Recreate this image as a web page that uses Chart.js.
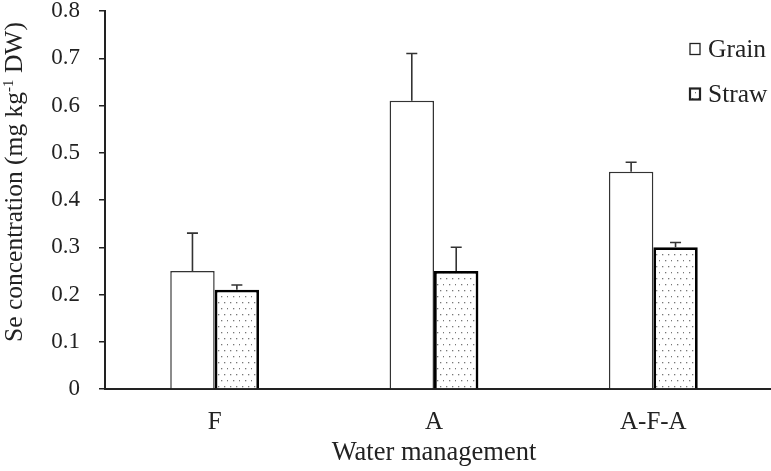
<!DOCTYPE html>
<html><head><meta charset="utf-8">
<script src="https://cdn.jsdelivr.net/npm/chart.js@4"></script>
<style>html,body{margin:0;padding:0;background:#fff}#wrap{width:771px;height:471px;position:relative}</style>
</head><body><div id="wrap"><canvas id="c" width="771" height="471"></canvas></div>
<script>
const categories = ["F", "A", "A-F-A"];
const grainValues = [0.25, 0.61, 0.46];
const grainErrors = [0.08, 0.10, 0.02];
const strawValues = [0.21, 0.25, 0.30];
const strawErrors = [0.01, 0.05, 0.01];
const yTicks = [0, 0.1, 0.2, 0.3, 0.4, 0.5, 0.6, 0.7, 0.8];
const seriesNames = ["Grain", "Straw"];

const FONT = "'Liberation Serif', 'Times New Roman', serif";

function dotPattern() {
  const p = document.createElement('canvas');
  p.width = 12; p.height = 12;
  const g = p.getContext('2d');
  g.fillStyle = '#fff'; g.fillRect(0,0,12,12);
  g.fillStyle = '#777';
  [[2,2],[8,2],[5,8],[11,8]].forEach(([x,y]) => g.fillRect(x,y,1.3,1.3));
  return g.createPattern(p, 'repeat');
}
const ctx0 = document.getElementById('c').getContext('2d');
const pat = dotPattern();

const errorBars = {
  id: 'errorBars',
  afterDatasetsDraw(chart) {
    const ctx = chart.ctx, ys = chart.scales.y;
    const errs = [grainErrors, strawErrors];
    chart.data.datasets.forEach((ds, di) => {
      const meta = chart.getDatasetMeta(di);
      meta.data.forEach((bar, i) => {
        const top = ys.getPixelForValue(ds.data[i] + errs[di][i]);
        ctx.save();
        ctx.strokeStyle = '#333'; ctx.lineWidth = 1.6;
        ctx.beginPath();
        ctx.moveTo(bar.x, bar.y); ctx.lineTo(bar.x, top);
        ctx.moveTo(bar.x - 5.5, top); ctx.lineTo(bar.x + 5.5, top);
        ctx.stroke();
        ctx.restore();
      });
    });
  }
};

const extras = {
  id: 'extras',
  afterDraw(chart) {
    const ctx = chart.ctx, ca = chart.chartArea;
    // extend x axis line to the right edge
    ctx.save();
    ctx.strokeStyle = '#222'; ctx.lineWidth = 2;
    ctx.beginPath(); ctx.moveTo(ca.right - 1, ca.bottom); ctx.lineTo(chart.width, ca.bottom); ctx.stroke();
    ctx.restore();
    // y title with superscript
    ctx.save();
    ctx.translate(22, 182);
    ctx.rotate(-Math.PI / 2);
    ctx.fillStyle = '#222';
    ctx.textBaseline = 'alphabetic';
    const p1 = 'Se concentration (mg kg', sup = '-1', p2 = ' DW)';
    const big = '25.5px ' + FONT, small = '15px ' + FONT;
    ctx.font = big;
    const w1 = ctx.measureText(p1).width, w3 = ctx.measureText(p2).width;
    ctx.font = small;
    const w2 = ctx.measureText(sup).width;
    let x = -(w1 + w2 + w3) / 2;
    ctx.textAlign = 'left';
    ctx.font = big; ctx.fillText(p1, x, 0); x += w1;
    ctx.font = small; ctx.fillText(sup, x, -9); x += w2;
    ctx.font = big; ctx.fillText(p2, x, 0);
    ctx.restore();
    // legend
    ctx.save();
    const items = [{y: 49, fill: '#fff', lw: 1.3}, {y: 94, fill: pat, lw: 2.2}];
    items.forEach((it, i) => {
      ctx.fillStyle = it.fill;
      ctx.fillRect(690, it.y - 5.5, 10, 11);
      ctx.strokeStyle = '#222'; ctx.lineWidth = it.lw;
      ctx.strokeRect(690, it.y - 5.5, 10, 11);
      ctx.fillStyle = '#222';
      ctx.font = '25.5px ' + FONT;
      ctx.textAlign = 'left'; ctx.textBaseline = 'alphabetic';
      ctx.fillText(seriesNames[i], 708, it.y + 8);
    });
    ctx.restore();
  }
};

new Chart(ctx0, {
  type: 'bar',
  data: {
    labels: categories,
    datasets: [
      {label: seriesNames[0], data: grainValues, backgroundColor: '#fff', borderColor: '#333', borderWidth: 1.5, barPercentage: 1, categoryPercentage: 0.405},
      {label: seriesNames[1], data: strawValues, backgroundColor: pat, borderColor: '#000', borderWidth: 2.8, barPercentage: 1, categoryPercentage: 0.405}
    ]
  },
  options: {
    responsive: false, animation: false,
    layout: {padding: {left: 0, right: 8, top: 11, bottom: 0}},
    plugins: {legend: {display: false}, tooltip: {enabled: false}},
    scales: {
      x: {
        grid: {display: false, drawTicks: false},
        border: {color: '#222', width: 2},
        ticks: {color: '#222', font: {family: FONT, size: 25}, padding: 18},
        title: {display: true, text: 'Water management', color: '#222', font: {family: FONT, size: 26.5}, padding: {top: 0, bottom: 2}},
        afterFit(s) { s.height = 82; }
      },
      y: {
        min: 0, max: 0.8,
        afterBuildTicks(s) { s.ticks = yTicks.map(v => ({value: v})); },
        grid: {drawOnChartArea: false, drawTicks: true, tickLength: 6, color: '#222', lineWidth: 1.5},
        border: {color: '#222', width: 2},
        ticks: {color: '#222', font: {family: FONT, size: 23}, padding: 19, callback: v => String(v)},
        afterFit(s) { s.width = 105; s.paddingTop = 0; s.paddingBottom = 0; }
      }
    }
  },
  plugins: [errorBars, extras]
});
</script></body></html>
